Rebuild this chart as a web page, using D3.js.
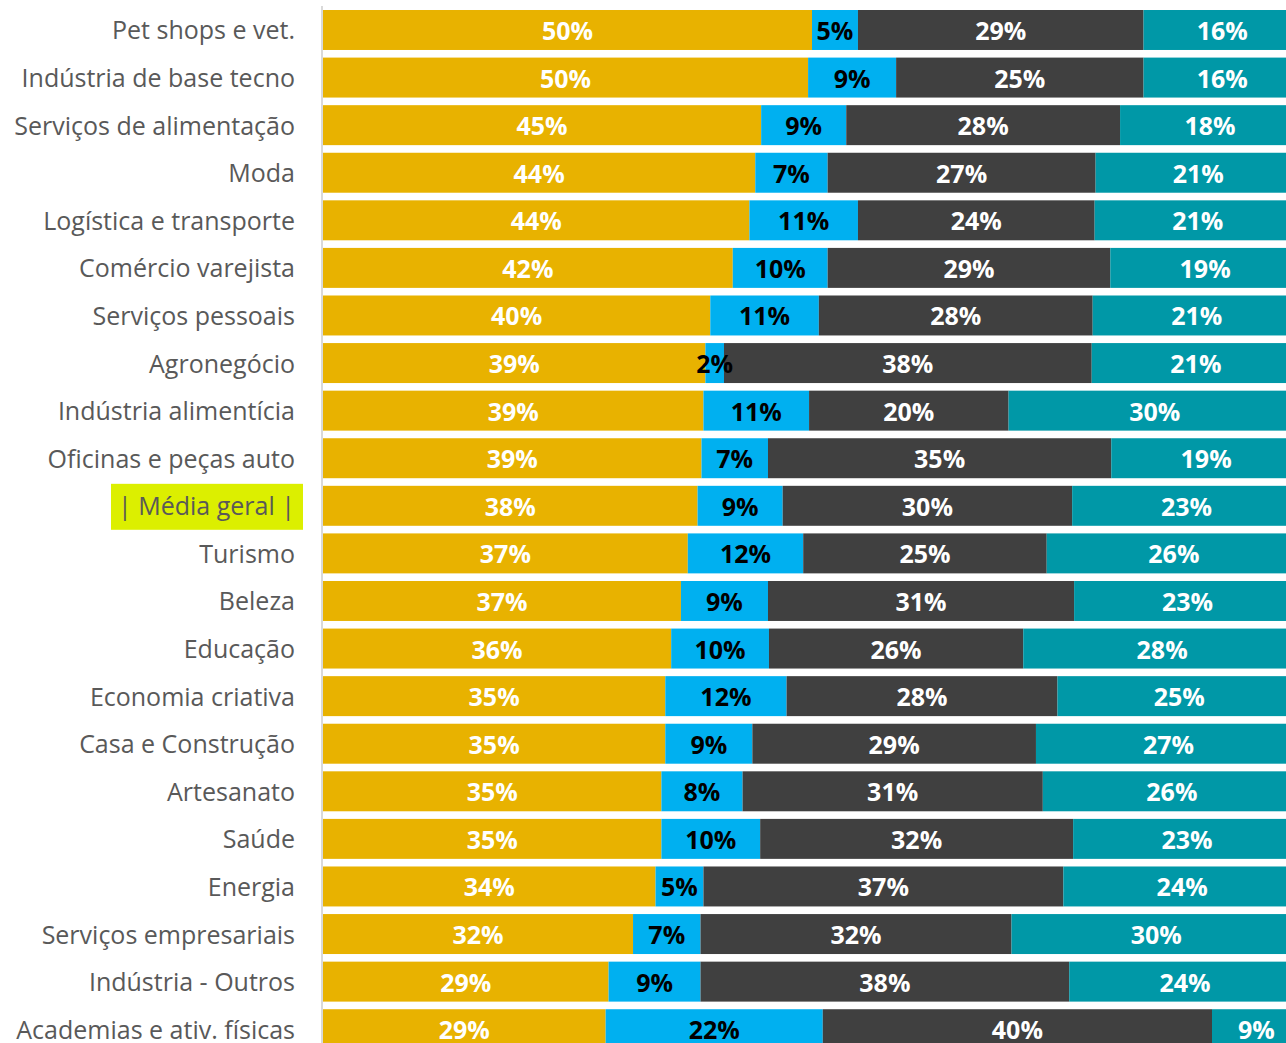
<!DOCTYPE html>
<html>
<head>
<meta charset="utf-8">
<script src="https://cdn.jsdelivr.net/npm/d3@7"></script>
<style>
  body { margin: 0; background: #fff; }
  svg { display: block; }
</style>
</head>
<body>
<div id="chart"></div>
<script>

// categorias (de cima para baixo)
var categories = [
    "Pet shops e vet.", "Indústria de base tecno", "Serviços de alimentação", "Moda",
    "Logística e transporte", "Comércio varejista", "Serviços pessoais", "Agronegócio",
    "Indústria alimentícia", "Oficinas e peças auto", "| Média geral |", "Turismo",
    "Beleza", "Educação", "Economia criativa", "Casa e Construção", "Artesanato",
    "Saúde", "Energia", "Serviços empresariais", "Indústria - Outros", "Academias e ativ. físicas"
];

// valores em %
var yellowVals = [50.0, 49.6, 44.8, 44.2, 43.6, 41.9, 39.6, 39.1, 38.9, 38.7, 38.3, 37.3, 36.6, 35.6, 35.0, 35.0, 34.6, 34.6, 34.0, 31.7, 29.2, 28.9];
var blueVals   = [4.7, 9.0, 8.7, 7.4, 11.1, 9.7, 11.1, 1.9, 10.8, 6.8, 8.7, 11.8, 8.9, 10.0, 12.4, 8.9, 8.3, 10.1, 4.9, 6.9, 9.4, 22.2];
var darkVals   = [29.2, 25.3, 28.0, 27.4, 24.2, 28.9, 28.0, 37.6, 20.4, 35.1, 29.6, 24.9, 31.3, 26.0, 27.7, 29.0, 30.7, 32.0, 36.8, 31.8, 37.7, 39.8];
var tealVals   = [16.1, 16.1, 18.4, 21.0, 21.1, 19.4, 21.3, 21.3, 29.9, 19.4, 23.4, 26.0, 23.2, 28.4, 24.9, 27.1, 26.4, 23.3, 24.3, 29.6, 23.7, 9.1];

var highlightCat = "| Média geral |";

var keys = ["a", "b", "c", "d"];
var colors = {a: "#e8b200", b: "#00b0f0", c: "#404040", d: "#0098a7"};
var textColors = {a: "#ffffff", b: "#000000", c: "#ffffff", d: "#ffffff"};

var width = 1286,
    height = 1043;

var rows = categories.map(function (c, i) {
    return {cat: c, a: yellowVals[i], b: blueVals[i], c: darkVals[i], d: tealVals[i]};
});

var stacked = d3.stack().keys(keys)(rows);

// a ultima faixa passa da borda direita (imagem recortada)
var x = d3.scaleLinear()
    .domain([0, 100])
    .range([323, 1301]);

var y = d3.scaleBand()
    .domain(categories)
    .range([6.2, 1053])
    .paddingInner(0.16)
    .paddingOuter(0.08);

var svg = d3.select("#chart").append("svg")
    .attr("width", width)
    .attr("height", height)
    .style("background", "#fff");

// linha do eixo
svg.append("line")
    .attr("x1", 322).attr("x2", 322)
    .attr("y1", 6).attr("y2", height)
    .attr("stroke", "#d9d9d9")
    .attr("stroke-width", 2);

var layer = svg.selectAll(".layer")
    .data(stacked)
    .enter().append("g")
    .attr("class", "layer")
    .attr("fill", function (d) { return colors[d.key]; });

layer.selectAll("rect")
    .data(function (d) { return d; })
    .enter().append("rect")
    .attr("x", function (d) { return x(d[0]); })
    .attr("y", function (d) { return y(d.data.cat); })
    .attr("width", function (d) { return x(d[1]) - x(d[0]); })
    .attr("height", y.bandwidth());

// rotulos de valor
stacked.forEach(function (s) {
    svg.append("g")
        .selectAll("text")
        .data(s)
        .enter().append("text")
        .attr("x", function (d) { return x((d[0] + d[1]) / 2); })
        .attr("y", function (d) { return y(d.data.cat) + y.bandwidth() / 2; })
        .attr("dy", "0.4em")
        .attr("text-anchor", "middle")
        .attr("font-family", "'Open Sans', sans-serif")
        .attr("font-weight", 700)
        .attr("font-size", "25px")
        .attr("fill", textColors[s.key])
        .text(function (d) { return Math.round(d.data[s.key]) + "%"; });
});

// categorias
var labels = svg.append("g")
    .selectAll("text")
    .data(categories)
    .enter().append("text")
    .attr("x", 295)
    .attr("y", function (d) { return y(d) + y.bandwidth() / 2; })
    .attr("dy", "0.38em")
    .attr("text-anchor", "end")
    .attr("font-family", "'Open Sans', sans-serif")
    .attr("font-size", "25px")
    .attr("fill", "#595959")
    .text(function (d) { return d; });

// destaque da media geral
labels.filter(function (d) { return d === highlightCat; }).each(function (d) {
    var bb = this.getBBox();
    var by = y(d);
    svg.insert("rect", "g")
        .attr("x", bb.x - 7)
        .attr("y", by - 2)
        .attr("width", bb.width + 15)
        .attr("height", y.bandwidth() + 6)
        .attr("fill", "#dcef00");
});

</script>
</body>
</html>
